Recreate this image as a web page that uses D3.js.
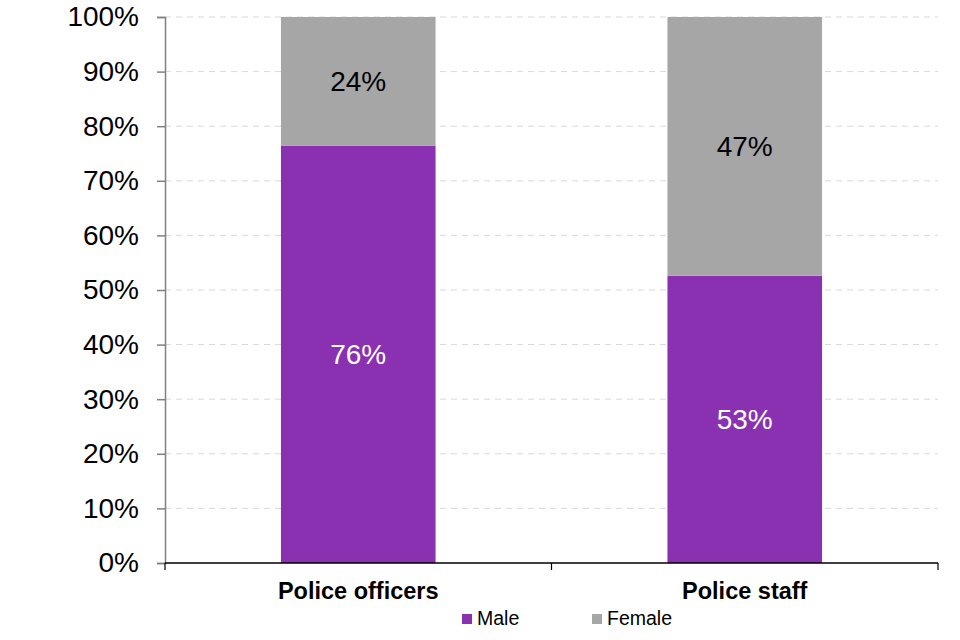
<!DOCTYPE html>
<html lang="en">
<head>
  <meta charset="UTF-8">
  <title>Police workforce by sex</title>
  <style>
    body { margin: 0; background: #fff; }
    text { font-family: "Liberation Sans", Arial, sans-serif; }
  </style>
</head>
<body>
  <div id="chart"></div>
  <script src="https://cdnjs.cloudflare.com/ajax/libs/d3/7.8.5/d3.min.js"></script>
  <script>
    // data
    const categories = ['Police officers', 'Police staff'];
    const male = [76.4, 52.6];
    const female = [23.6, 47.4];
    const seriesNames = ['Male', 'Female'];
    const colors = ['#8931b1', '#a6a6a6'];
    const yTicks = [0, 10, 20, 30, 40, 50, 60, 70, 80, 90, 100];

    const width = 960, height = 640;
    const margin = { top: 17, right: 22, bottom: 77, left: 165 };

    const svg = d3.select('#chart')
      .append('svg')
      .attr('width', width)
      .attr('height', height);

    const x = d3.scaleBand()
      .domain(categories)
      .range([margin.left, width - margin.right])
      .paddingInner(0)
      .paddingOuter(0);

    const y = d3.scaleLinear()
      .domain([0, 100])
      .range([height - margin.bottom, margin.top]);

    // gridlines
    svg.append('g')
      .selectAll('line')
      .data(yTicks.filter(d => d > 0))
      .join('line')
      .attr('x1', margin.left)
      .attr('x2', width - margin.right)
      .attr('y1', d => y(d))
      .attr('y2', d => y(d))
      .attr('stroke', '#d9d9d9')
      .attr('stroke-width', 1)
      .attr('stroke-dasharray', '6,5');

    // stacked bars
    const rows = categories.map((c, i) => ({ cat: c, Male: male[i], Female: female[i] }));
    const stacked = d3.stack().keys(seriesNames)(rows);
    const barW = x.bandwidth() * 0.4;

    const layers = svg.append('g')
      .selectAll('g')
      .data(stacked)
      .join('g')
      .attr('fill', (d, i) => colors[i]);

    layers.selectAll('rect')
      .data(d => d)
      .join('rect')
      .attr('x', d => x(d.data.cat) + (x.bandwidth() - barW) / 2)
      .attr('width', barW)
      .attr('y', d => y(d[1]))
      .attr('height', d => y(d[0]) - y(d[1]));

    layers.selectAll('text')
      .data((d, i) => d.map(p => ({ p: p, s: i })))
      .join('text')
      .attr('x', d => x(d.p.data.cat) + x.bandwidth() / 2)
      .attr('y', d => (y(d.p[0]) + y(d.p[1])) / 2)
      .attr('dy', '0.35em')
      .attr('text-anchor', 'middle')
      .attr('font-size', 28)
      .attr('fill', d => d.s === 0 ? '#fff' : '#000')
      .text(d => Math.round(d.p[1] - d.p[0]) + '%');

    // y axis
    const yAxis = svg.append('g')
      .attr('transform', `translate(${margin.left},0)`)
      .call(d3.axisLeft(y).tickValues(yTicks).tickSize(8).tickPadding(18).tickFormat(d => d + '%'));
    yAxis.select('.domain').attr('stroke', '#808080').attr('stroke-width', 1.5);
    yAxis.selectAll('.tick line').attr('stroke', '#808080').attr('stroke-width', 1.5);
    yAxis.selectAll('.tick text').attr('font-size', 28).attr('fill', '#000');

    // x axis
    const xAxis = svg.append('g')
      .attr('transform', `translate(0,${height - margin.bottom})`);
    xAxis.append('line')
      .attr('x1', margin.left)
      .attr('x2', width - margin.right)
      .attr('stroke', '#000')
      .attr('stroke-width', 1.5);
    const bounds = [x.range()[0]].concat(categories.map(c => x(c) + x.bandwidth()));
    xAxis.selectAll('.sep')
      .data(bounds)
      .join('line')
      .attr('class', 'sep')
      .attr('x1', d => d)
      .attr('x2', d => d)
      .attr('y1', 0)
      .attr('y2', 7)
      .attr('stroke', '#000')
      .attr('stroke-width', 1.2);
    xAxis.selectAll('.cat')
      .data(categories)
      .join('text')
      .attr('class', 'cat')
      .attr('x', d => x(d) + x.bandwidth() / 2)
      .attr('y', 36)
      .attr('text-anchor', 'middle')
      .attr('font-size', 23.5)
      .attr('font-weight', 'bold')
      .attr('fill', '#000')
      .text(d => d);

    // legend
    const legendX = [462, 592];
    const legend = svg.append('g')
      .selectAll('g')
      .data(seriesNames)
      .join('g')
      .attr('transform', (d, i) => `translate(${legendX[i]},614)`);
    legend.append('rect')
      .attr('width', 10)
      .attr('height', 10)
      .attr('fill', (d, i) => colors[i]);
    legend.append('text')
      .attr('x', 15)
      .attr('y', 11)
      .attr('font-size', 19.5)
      .attr('fill', '#000')
      .text(d => d);
  </script>
</body>
</html>
